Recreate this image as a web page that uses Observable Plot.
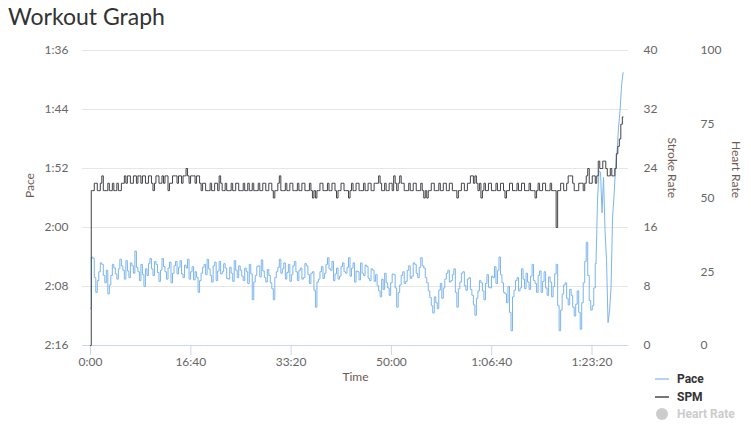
<!DOCTYPE html>
<html>
<head>
<meta charset="utf-8">
<script src="https://cdn.jsdelivr.net/npm/d3@7"></script>
<script src="https://cdn.jsdelivr.net/npm/@observablehq/plot@0.6"></script>
<style>
  html, body { margin: 0; padding: 0; background: #fff; }
  #wrap { position: relative; width: 751px; height: 426px; overflow: hidden; }
  #title { position: absolute; left: 8px; top: 2px; font-family: Lato, sans-serif; font-size: 23px; color: #333; }
  #chart { position: absolute; left: 0; top: 0; }
  #legend { position: absolute; left: 0; top: 0; pointer-events: none; }
</style>
</head>
<body>
<div id="wrap">
  <div id="chart"></div>
  <div id="title">Workout Graph</div>
  <svg id="legend" width="751" height="426"></svg>
</div>
<script>
// ---- data ----
const SAMPLE_SECONDS = 15; // one sample every 15 s, starting at 0:00

// Pace, seconds per 500 m
const paceSeconds = [
  131, 124, 124.2, 126.8, 128.8, 127.2, 126, 124.8, 125, 126.5,
  127.5, 125.8, 129, 127.8, 126.5, 125, 125.5, 126.3, 127, 125.6,
  124.3, 125.2, 125.8, 127, 124.5, 125.9, 126.8, 124.8, 125.2, 126.2,
  123.2, 125.4, 126, 127.2, 125, 126.4, 128, 125.6, 126.5, 124.9,
  124.2, 125.6, 126.5, 124.6, 125, 126.1, 127.3, 125.8, 124.2, 125.3,
  126, 127, 125.5, 124.7, 127.5, 126.2, 125.2, 124.6, 126.3, 125.4,
  124.5, 126.3, 126.8, 125.1, 125.5, 124.3, 127, 126, 125.3, 127.1,
  126, 126.8, 128.8, 127.2, 126.2, 125.4, 125, 126.4, 124.3, 125.6,
  126.5, 127.4, 125.2, 124.7, 127.2, 125.9, 124.6, 126.3, 126, 124.9,
  125.5, 126.9, 127, 125.4, 126.2, 127.3, 124.5, 125.8, 126.8, 125.2,
  125.8, 126.6, 127.2, 125.5, 126, 127.6, 125, 126.3, 129.8, 127.4,
  126.5, 125.3, 125.2, 126.7, 124.4, 125.9, 126.8, 127.4, 125.7, 126.5,
  127.5, 128.3, 129.8, 126.8, 126, 125.4, 124.3, 126.2, 125.6, 124.8,
  127, 126.1, 125, 127.3, 126.4, 125.2, 124.6, 126, 127.2, 125.8,
  125.5, 127, 126.8, 124.9, 125.2, 126.4, 127.6, 126.2, 126, 128.5,
  130.8, 127.4, 127, 126, 125.3, 126.9, 126.2, 125, 124.1, 125.6,
  125.8, 124.6, 127.2, 126.3, 125.5, 127, 126.6, 125.3, 124.8, 126,
  126.2, 125.4, 124.1, 126.6, 125.5, 124.8, 127.4, 125.9, 126, 127.1,
  124.8, 126.2, 126.5, 125.1, 125.3, 126.9, 127.2, 125.6, 125.8, 127.3,
  126.4, 127.9, 128.6, 129.4, 127, 128.4, 126.2, 127.5, 128.2, 129.2,
  127.5, 126.3, 126.4, 128.2, 130.8, 128.8, 127.8, 126.5, 126, 127.6,
  127.3, 125.8, 125.2, 126.9, 126.6, 124.8, 125, 126.2, 126.8, 125.4,
  124.1, 125.2, 125.5, 126.8, 127.5, 128.6, 129.5, 130.6, 131.6, 129.4,
  130.2, 131, 128.5, 127.6, 129.6, 128.2, 127, 126.2, 125.8, 127.4,
  127.2, 126.4, 125.6, 128.8, 130.8, 128.3, 127.4, 126.2, 126, 127.9,
  128.5, 127, 126.8, 128.4, 129.2, 130.5, 131.9, 129.6, 128.6, 127.2,
  127.5, 128.6, 129.8, 127.6, 126.4, 128.1, 128.2, 126.6, 126.8, 125.3,
  127.6, 125.8, 124, 126.4, 127.5, 128.8, 129, 130.2, 128, 131.5,
  134, 129.4, 128.5, 127.2, 126.8, 128.6, 128.2, 125.6, 127, 128.3,
  126.2, 127.4, 128.4, 126.6, 125, 127.2, 127.6, 128.8, 126.5, 125.9,
  128.8, 127.3, 126, 128.2, 129.2, 126.7, 127.4, 129.4, 128, 126.3,
  125, 130.6, 134, 131.2, 129, 127.8, 127.5, 129.6, 130.5, 128.4,
  129.2, 130.8, 132, 130.4, 128.6, 131.5, 133.8, 130.2, 127.5, 124.6,
  122, 126.5, 129.9, 131.2, 130.6, 128.2,
  124.9, 116.3, 112.3, 112.5, 118, 113.2, 120.4, 124.5, 132.9, 131.3,
  128.1, 118.6, 115.7, 111.9, 109.6, 106.4, 104.1, 100.7, 99
];

// Stroke rate, strokes per minute
const spmValues = [
  0, 21, 21, 22, 22, 21, 21, 22, 23, 21,
  21, 21, 22, 21, 21, 22, 21, 21, 22, 21,
  21, 22, 22, 23, 22, 23, 23, 22, 22, 23,
  23, 22, 23, 23, 22, 23, 23, 22, 22, 23,
  23, 22, 21, 22, 23, 23, 22, 22, 23, 22,
  23, 23, 21, 22, 22, 23, 23, 23, 22, 23,
  23, 22, 23, 23, 24, 23, 22, 23, 23, 23,
  22, 23, 23, 22, 21, 22, 22, 21, 21, 21,
  22, 21, 21, 22, 22, 21, 23, 22, 21, 21,
  22, 21, 21, 21, 22, 21, 21, 22, 22, 21,
  21, 21, 22, 21, 21, 22, 21, 21, 22, 21,
  21, 21, 22, 21, 21, 22, 22, 21, 21, 22,
  22, 21, 20, 21, 21, 22, 23, 21, 21, 21,
  22, 21, 21, 22, 22, 21, 21, 21, 22, 21,
  21, 22, 22, 21, 21, 21, 22, 21, 20, 21,
  20, 21, 21, 22, 22, 21, 21, 21, 22, 21,
  21, 22, 22, 21, 20, 21, 21, 22, 22, 21,
  21, 21, 20, 21, 22, 21, 21, 22, 22, 21,
  21, 21, 22, 21, 21, 22, 22, 21, 21, 22,
  22, 22, 23, 22, 21, 21, 22, 21, 21, 22,
  22, 21, 23, 22, 21, 22, 23, 22, 22, 21,
  21, 21, 22, 21, 21, 22, 22, 21, 21, 21,
  22, 21, 20, 21, 20, 21, 21, 22, 22, 21,
  21, 21, 22, 21, 21, 22, 22, 21, 21, 22,
  22, 21, 21, 21, 20, 21, 21, 22, 22, 21,
  21, 22, 22, 23, 23, 22, 23, 22, 21, 22,
  20, 21, 22, 21, 21, 22, 22, 21, 21, 21,
  22, 21, 21, 22, 22, 21, 20, 21, 21, 22,
  22, 21, 21, 21, 22, 21, 21, 22, 22, 21,
  21, 21, 22, 21, 21, 21, 20, 21, 22, 21,
  21, 22, 22, 21, 21, 21, 22, 21, 21, 21,
  16, 21, 21, 22, 22, 21, 21, 22, 23, 23,
  23, 22, 21, 21, 21, 22, 22, 22, 21, 22,
  23, 24, 22, 22, 23, 23,
  22, 23, 25, 24, 24, 25, 25, 24, 23, 23,
  24, 23, 23, 24, 26, 27, 28, 30, 31
];

// Tick labels
const paceTicks = [96, 104, 112, 120, 128, 136];   // 1:36 ... 2:16
const strokeTicks = [0, 8, 16, 24, 32, 40];
const heartTicks = [0, 25, 50, 75, 100];
const timeTicks = [0, 1000, 2000, 3000, 4000, 5000];

const seriesNames = ["Pace", "SPM", "Heart Rate"];
const seriesColors = ["#7cb5ec", "#434348", "#cccccc"];

// ---- build table ----
const rows = paceSeconds.map((p, i) => ({ i, t: i * SAMPLE_SECONDS, pace: p, spm: spmValues[i] }));
const SPRINT_START = 336; // final sprint drawn with straight segments
const paceSteady = rows.filter(d => d.i <= SPRINT_START);
const paceSprint = rows.filter(d => d.i >= SPRINT_START);

// The pace axis (96..136, inverted) and stroke axis (40..0) share the plot height:
const PACE_BOTTOM = 136, PACE_SPAN = 40;
const spmToY = s => PACE_BOTTOM - s * (PACE_SPAN / 40);
const hrToY = h => PACE_BOTTOM - h * (PACE_SPAN / 100);

const fmtPace = d => `${Math.floor(d / 60)}:${String(Math.round(d % 60)).padStart(2, "0")}`;
const fmtTime = s => {
  const h = Math.floor(s / 3600), m = Math.floor((s % 3600) / 60), sec = s % 60;
  const ss = String(sec).padStart(2, "0");
  return h > 0 ? `${h}:${String(m).padStart(2, "0")}:${ss}` : `${m}:${ss}`;
};

const titleColor = "#6e5a50";

const chart = Plot.plot({
  width: 751,
  height: 426,
  marginTop: 50,
  marginBottom: 81,
  marginLeft: 82,
  marginRight: 123,
  style: { fontFamily: "Lato, sans-serif", fontSize: "12px", background: "transparent", color: "#666" },
  x: { domain: [-80, 5364] },
  y: { domain: [136, 96] },
  marks: [
    Plot.gridY(paceTicks, { stroke: "#e6e6e6", strokeOpacity: 1 }),
    Plot.ruleY([136], { stroke: "#ccd6eb" }),
    Plot.axisY(paceTicks, { anchor: "left", tickSize: 0, tickPadding: 14, tickFormat: fmtPace, label: null, fill: "#666" }),
    Plot.axisY(strokeTicks.map(spmToY), { anchor: "right", tickSize: 0, tickPadding: 15, tickFormat: d => String(Math.round((PACE_BOTTOM - d) * 40 / PACE_SPAN)), label: null, fill: "#666" }),
    Plot.axisY(heartTicks.map(hrToY), { anchor: "right", tickSize: 0, tickPadding: 72, tickFormat: d => String(Math.round((PACE_BOTTOM - d) * 100 / PACE_SPAN)), label: null, fill: "#666" }),
    Plot.axisX(timeTicks, { anchor: "bottom", tickSize: 10, tickPadding: 2, stroke: "#ccd6eb", fill: "#666", tickFormat: fmtTime, label: null }),
    Plot.text(["Pace"], { text: d => d, frameAnchor: "left", dx: -52, rotate: -90, fill: titleColor, fontSize: 12 }),
    Plot.text(["Stroke Rate"], { text: d => d, frameAnchor: "right", dx: 43, rotate: 90, fill: titleColor, fontSize: 12 }),
    Plot.text(["Heart Rate"], { text: d => d, frameAnchor: "right", dx: 107, rotate: 90, fill: titleColor, fontSize: 12 }),
    Plot.text(["Time"], { text: d => d, frameAnchor: "bottom", dy: 35, fill: titleColor, fontSize: 12 }),
    Plot.line(paceSteady, { x: "t", y: "pace", stroke: seriesColors[0], strokeWidth: 1, curve: "step" }),
    Plot.line(paceSprint, { x: "t", y: "pace", stroke: seriesColors[0], strokeWidth: 1 }),
    Plot.line(rows, { x: "t", y: d => spmToY(d.spm), stroke: seriesColors[1], strokeWidth: 1, curve: "step" })
  ]
});
document.getElementById("chart").appendChild(chart);

// ---- legend ----
const lg = d3.select("#legend");
const legendY = [379, 397, 414];
seriesNames.forEach((name, i) => {
  const y = legendY[i];
  if (i < 2) {
    lg.append("line").attr("x1", 655).attr("x2", 669).attr("y1", y).attr("y2", y)
      .attr("stroke", i === 0 ? "#b5d3f2" : "#77777b").attr("stroke-width", 2);
  } else {
    lg.append("circle").attr("cx", 662).attr("cy", y).attr("r", 6).attr("fill", seriesColors[2]);
  }
  lg.append("text").attr("x", 677).attr("y", y).attr("dy", "0.35em")
    .attr("font-family", "Roboto, sans-serif").attr("font-weight", "bold").attr("font-size", 12)
    .attr("fill", i < 2 ? "#333" : "#cccccc").text(name);
});
</script>
</body>
</html>
